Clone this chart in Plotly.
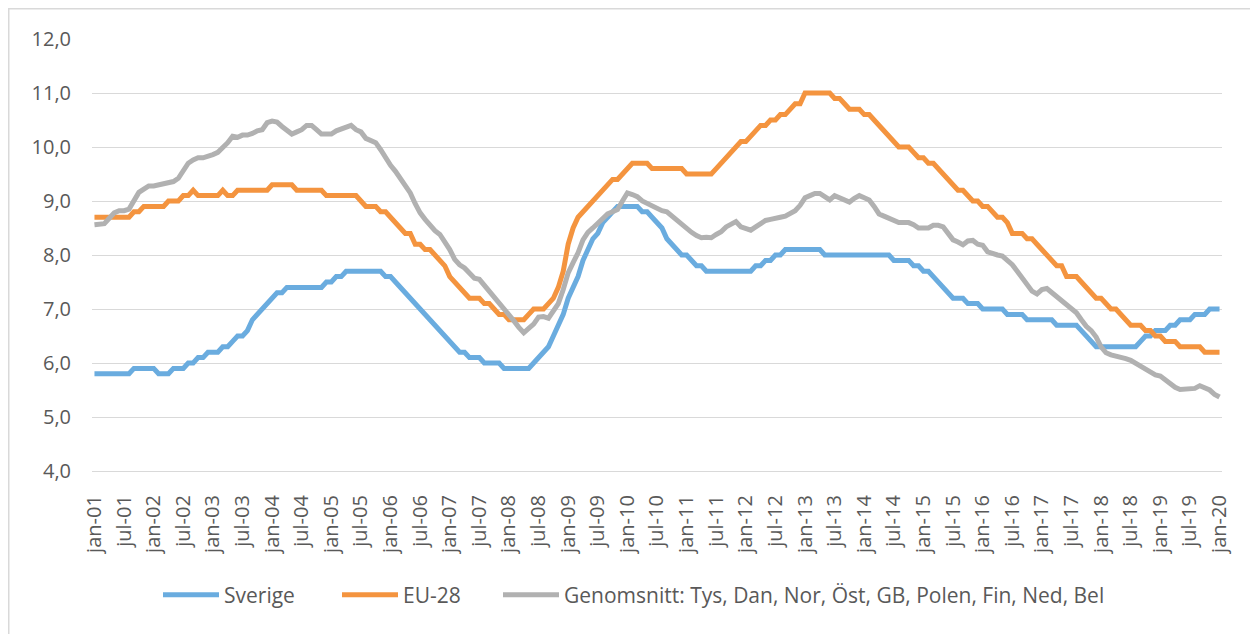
import plotly.graph_objects as go

# Monthly values jan-01 .. jan-20, one list per year (12 months), last year only january
sverige_by_year = [
    [5.8, 5.8, 5.8, 5.8, 5.8, 5.8, 5.8, 5.8, 5.9, 5.9, 5.9, 5.9],  # 2001
    [5.9, 5.8, 5.8, 5.8, 5.9, 5.9, 5.9, 6.0, 6.0, 6.1, 6.1, 6.2],  # 2002
    [6.2, 6.2, 6.3, 6.3, 6.4, 6.5, 6.5, 6.6, 6.8, 6.9, 7.0, 7.1],  # 2003
    [7.2, 7.3, 7.3, 7.4, 7.4, 7.4, 7.4, 7.4, 7.4, 7.4, 7.4, 7.5],  # 2004
    [7.5, 7.6, 7.6, 7.7, 7.7, 7.7, 7.7, 7.7, 7.7, 7.7, 7.7, 7.6],  # 2005
    [7.6, 7.5, 7.4, 7.3, 7.2, 7.1, 7.0, 6.9, 6.8, 6.7, 6.6, 6.5],  # 2006
    [6.4, 6.3, 6.2, 6.2, 6.1, 6.1, 6.1, 6.0, 6.0, 6.0, 6.0, 5.9],  # 2007
    [5.9, 5.9, 5.9, 5.9, 5.9, 6.0, 6.1, 6.2, 6.3, 6.5, 6.7, 6.9],  # 2008
    [7.2, 7.4, 7.6, 7.9, 8.1, 8.3, 8.4, 8.6, 8.7, 8.8, 8.9, 8.9],  # 2009
    [8.9, 8.9, 8.9, 8.8, 8.8, 8.7, 8.6, 8.5, 8.3, 8.2, 8.1, 8.0],  # 2010
    [8.0, 7.9, 7.8, 7.8, 7.7, 7.7, 7.7, 7.7, 7.7, 7.7, 7.7, 7.7],  # 2011
    [7.7, 7.7, 7.8, 7.8, 7.9, 7.9, 8.0, 8.0, 8.1, 8.1, 8.1, 8.1],  # 2012
    [8.1, 8.1, 8.1, 8.1, 8.0, 8.0, 8.0, 8.0, 8.0, 8.0, 8.0, 8.0],  # 2013
    [8.0, 8.0, 8.0, 8.0, 8.0, 8.0, 7.9, 7.9, 7.9, 7.9, 7.8, 7.8],  # 2014
    [7.7, 7.7, 7.6, 7.5, 7.4, 7.3, 7.2, 7.2, 7.2, 7.1, 7.1, 7.1],  # 2015
    [7.0, 7.0, 7.0, 7.0, 7.0, 6.9, 6.9, 6.9, 6.9, 6.8, 6.8, 6.8],  # 2016
    [6.8, 6.8, 6.8, 6.7, 6.7, 6.7, 6.7, 6.7, 6.6, 6.5, 6.4, 6.3],  # 2017
    [6.3, 6.3, 6.3, 6.3, 6.3, 6.3, 6.3, 6.3, 6.4, 6.5, 6.5, 6.6],  # 2018
    [6.6, 6.6, 6.7, 6.7, 6.8, 6.8, 6.8, 6.9, 6.9, 6.9, 7.0, 7.0],  # 2019
    [7.0],                                                         # 2020
]

eu28_by_year = [
    [8.7, 8.7, 8.7, 8.7, 8.7, 8.7, 8.7, 8.7, 8.8, 8.8, 8.9, 8.9],  # 2001
    [8.9, 8.9, 8.9, 9.0, 9.0, 9.0, 9.1, 9.1, 9.2, 9.1, 9.1, 9.1],  # 2002
    [9.1, 9.1, 9.2, 9.1, 9.1, 9.2, 9.2, 9.2, 9.2, 9.2, 9.2, 9.2],  # 2003
    [9.3, 9.3, 9.3, 9.3, 9.3, 9.2, 9.2, 9.2, 9.2, 9.2, 9.2, 9.1],  # 2004
    [9.1, 9.1, 9.1, 9.1, 9.1, 9.1, 9.0, 8.9, 8.9, 8.9, 8.8, 8.8],  # 2005
    [8.7, 8.6, 8.5, 8.4, 8.4, 8.2, 8.2, 8.1, 8.1, 8.0, 7.9, 7.8],  # 2006
    [7.6, 7.5, 7.4, 7.3, 7.2, 7.2, 7.2, 7.1, 7.1, 7.0, 6.9, 6.9],  # 2007
    [6.8, 6.8, 6.8, 6.8, 6.9, 7.0, 7.0, 7.0, 7.1, 7.2, 7.4, 7.7],  # 2008
    [8.2, 8.5, 8.7, 8.8, 8.9, 9.0, 9.1, 9.2, 9.3, 9.4, 9.4, 9.5],  # 2009
    [9.6, 9.7, 9.7, 9.7, 9.7, 9.6, 9.6, 9.6, 9.6, 9.6, 9.6, 9.6],  # 2010
    [9.5, 9.5, 9.5, 9.5, 9.5, 9.5, 9.6, 9.7, 9.8, 9.9, 10.0, 10.1],  # 2011
    [10.1, 10.2, 10.3, 10.4, 10.4, 10.5, 10.5, 10.6, 10.6, 10.7, 10.8, 10.8],  # 2012
    [11.0, 11.0, 11.0, 11.0, 11.0, 11.0, 10.9, 10.9, 10.8, 10.7, 10.7, 10.7],  # 2013
    [10.6, 10.6, 10.5, 10.4, 10.3, 10.2, 10.1, 10.0, 10.0, 10.0, 9.9, 9.8],  # 2014
    [9.8, 9.7, 9.7, 9.6, 9.5, 9.4, 9.3, 9.2, 9.2, 9.1, 9.0, 9.0],  # 2015
    [8.9, 8.9, 8.8, 8.7, 8.7, 8.6, 8.4, 8.4, 8.4, 8.3, 8.3, 8.2],  # 2016
    [8.1, 8.0, 7.9, 7.8, 7.8, 7.6, 7.6, 7.6, 7.5, 7.4, 7.3, 7.2],  # 2017
    [7.2, 7.1, 7.0, 7.0, 6.9, 6.8, 6.7, 6.7, 6.7, 6.6, 6.6, 6.5],  # 2018
    [6.5, 6.4, 6.4, 6.4, 6.3, 6.3, 6.3, 6.3, 6.3, 6.2, 6.2, 6.2],  # 2019
    [6.2],                                                         # 2020
]

genomsnitt_by_year = [
    [8.56, 8.56, 8.58, 8.68, 8.78, 8.82, 8.82, 8.85, 9.00, 9.16, 9.22, 9.28],  # 2001
    [9.28, 9.30, 9.32, 9.36, 9.36, 9.42, 9.56, 9.70, 9.76, 9.80, 9.80, 9.82],  # 2002
    [9.86, 9.90, 9.98, 10.08, 10.20, 10.18, 10.22, 10.22, 10.25, 10.30, 10.32, 10.45],  # 2003
    [10.48, 10.46, 10.38, 10.30, 10.24, 10.28, 10.32, 10.40, 10.40, 10.32, 10.24, 10.24],  # 2004
    [10.24, 10.30, 10.34, 10.38, 10.40, 10.32, 10.28, 10.16, 10.12, 10.08, 9.95, 9.80],  # 2005
    [9.66, 9.55, 9.42, 9.30, 9.15, 8.95, 8.78, 8.66, 8.55, 8.45, 8.38, 8.25],  # 2006
    [8.10, 7.92, 7.82, 7.76, 7.68, 7.57, 7.55, 7.44, 7.34, 7.22, 7.14, 7.02],  # 2007
    [6.90, 6.78, 6.66, 6.56, 6.64, 6.72, 6.85, 6.86, 6.83, 6.95, 7.10, 7.36],  # 2008
    [7.67, 7.86, 8.04, 8.28, 8.42, 8.50, 8.58, 8.68, 8.76, 8.80, 8.84, 9.00],  # 2009
    [9.15, 9.12, 9.08, 9.00, 8.95, 8.90, 8.86, 8.82, 8.80, 8.72, 8.64, 8.58],  # 2010
    [8.50, 8.42, 8.36, 8.32, 8.33, 8.32, 8.38, 8.43, 8.52, 8.58, 8.62, 8.52],  # 2011
    [8.50, 8.46, 8.52, 8.58, 8.64, 8.66, 8.67, 8.70, 8.72, 8.76, 8.82, 8.92],  # 2012
    [9.06, 9.10, 9.14, 9.14, 9.08, 9.02, 9.10, 9.06, 9.00, 8.98, 9.05, 9.10],  # 2013
    [9.06, 9.02, 8.90, 8.76, 8.72, 8.68, 8.64, 8.60, 8.60, 8.60, 8.56, 8.50],  # 2014
    [8.50, 8.50, 8.55, 8.55, 8.52, 8.40, 8.28, 8.24, 8.19, 8.26, 8.27, 8.20],  # 2015
    [8.18, 8.06, 8.02, 8.00, 7.98, 7.90, 7.82, 7.70, 7.58, 7.45, 7.33, 7.28],  # 2016
    [7.36, 7.38, 7.30, 7.23, 7.14, 7.06, 7.00, 6.93, 6.80, 6.68, 6.60, 6.48],  # 2017
    [6.30, 6.19, 6.15, 6.13, 6.12, 6.08, 6.05, 6.00, 5.94, 5.90, 5.85, 5.78],  # 2018
    [5.76, 5.68, 5.62, 5.55, 5.51, 5.51, 5.52, 5.53, 5.58, 5.53, 5.50, 5.42],  # 2019
    [5.37],                                                                     # 2020
]

tick_labels = []
for yy in range(1, 21):
    tick_labels.append(f"jan-{yy:02d}")
    if yy < 20:
        tick_labels.append(f"jul-{yy:02d}")

series_names = ["Sverige", "EU-28",
                "Genomsnitt: Tys, Dan, Nor, Öst, GB, Polen, Fin, Ned, Bel"]
series_colors = ["#6AACDF", "#F4943F", "#B1B1B1"]


def flatten(rows):
    return [v for row in rows for v in row]


sverige = flatten(sverige_by_year)
eu28 = flatten(eu28_by_year)
genomsnitt = flatten(genomsnitt_by_year)
months = list(range(len(sverige)))

# The page body has an 8px margin: the figure is sized and laid out so that
# its drawing lands on the 1258x634 window in the intended place.
OFF = 8
W, H = 1258 - OFF, 634 - OFF
FONT = "Open Sans"
TXT = "#595959"
GRID = "#D9D9D9"

fig = go.Figure()
legend_ids = ["legend", "legend2", "legend3"]
for name, vals, col, lg in zip(series_names, [sverige, eu28, genomsnitt],
                                series_colors, legend_ids):
    fig.add_trace(go.Scatter(
        x=months, y=vals, mode="lines", name=name, legend=lg,
        line=dict(color=col, width=5, shape="linear"),
    ))

# plot area in window pixels
plot_left, plot_right, plot_top, plot_bottom = 92, 1222, 39, 471.4
ml = plot_left - OFF
mr = (W + OFF) - plot_right
mt = plot_top - OFF
mb = (H + OFF) - plot_bottom
pw = plot_right - plot_left
ph = plot_bottom - plot_top

legend_common = dict(orientation="h", xref="container", yref="container",
                     yanchor="middle", xanchor="left",
                     font=dict(family=FONT, size=21, color=TXT),
                     bgcolor="rgba(0,0,0,0)", itemwidth=56,
                     tracegroupgap=0)
legend_x = [158, 337, 498]
legend_y = 1 - (595 - OFF) / H

fig.update_layout(
    width=W, height=H,
    margin=dict(l=ml, r=mr, t=mt, b=mb, pad=0),
    paper_bgcolor="white", plot_bgcolor="white",
    separators=", ",
    font=dict(family=FONT, size=20, color=TXT),
    showlegend=True,
    legend=dict(legend_common, x=(legend_x[0] - OFF) / W, y=legend_y),
    legend2=dict(legend_common, x=(legend_x[1] - OFF) / W, y=legend_y),
    legend3=dict(legend_common, x=(legend_x[2] - OFF) / W, y=legend_y),
    xaxis=dict(
        range=[-0.5, len(months) - 0.5],
        tickmode="array", tickvals=list(range(0, len(months), 6)),
        ticktext=tick_labels, tickangle=-90,
        showgrid=False, zeroline=False,
        showline=True, linecolor=GRID, linewidth=1.3,
        ticks="", ticklabelstandoff=15,
        tickfont=dict(family=FONT, size=20, color=TXT),
    ),
    yaxis=dict(
        range=[4, 12], dtick=1, tick0=4, tickformat=".1f",
        showgrid=True, gridcolor=GRID, gridwidth=1.3,
        zeroline=False, showline=False, ticks="",
        ticklabelstandoff=20,
        tickfont=dict(family=FONT, size=20, color=TXT),
    ),
    shapes=[dict(
        type="rect", xref="paper", yref="paper",
        x0=(8.75 - plot_left) / pw, x1=(1256 - plot_left) / pw,
        y0=(plot_bottom - 650) / ph, y1=(plot_bottom - 8.75) / ph,
        line=dict(color=GRID, width=1.5), fillcolor="rgba(0,0,0,0)",
        layer="below",
    )],
)

fig.write_html("out.html")
